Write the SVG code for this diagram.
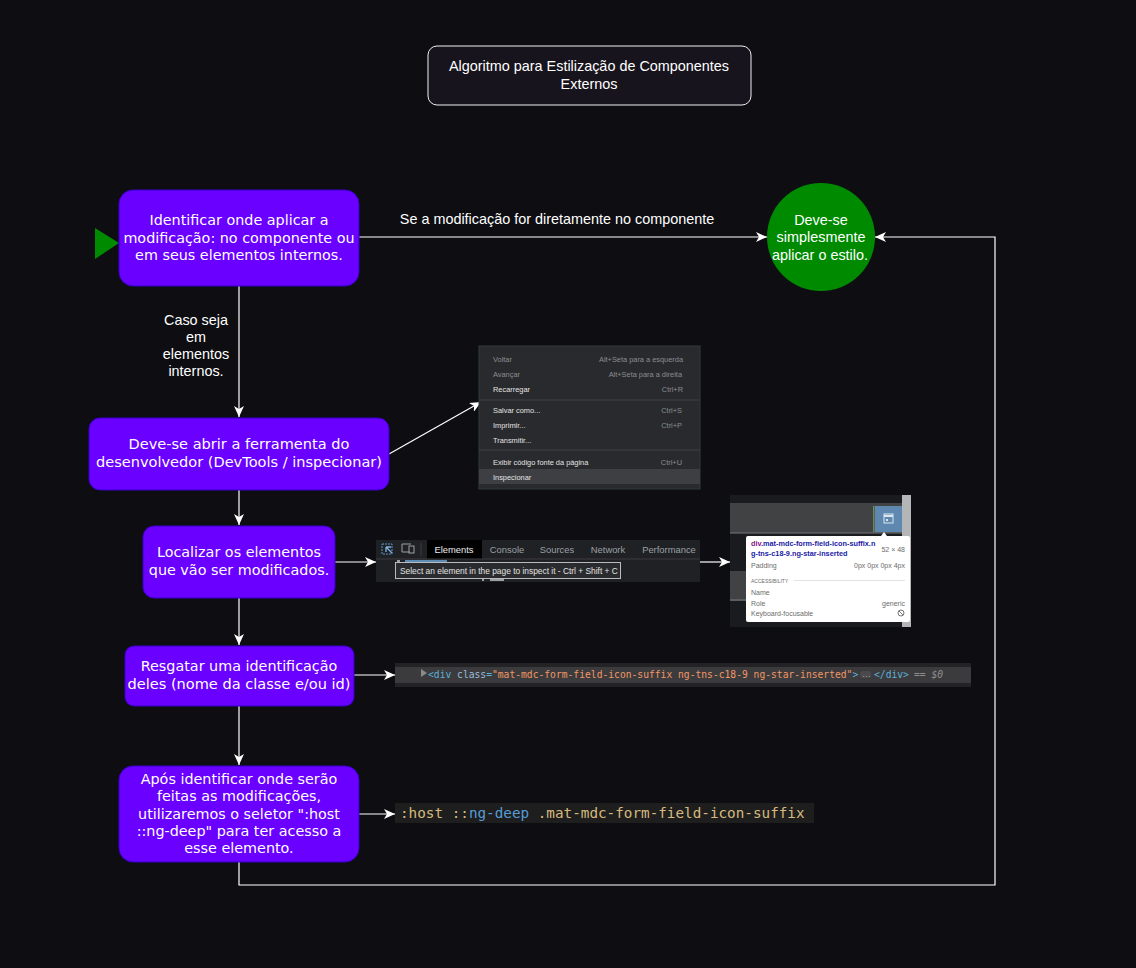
<svg xmlns="http://www.w3.org/2000/svg" width="1136" height="968" viewBox="0 0 1136 968">
<style>
.box{fill:#6a00ff;stroke:#3700cc;stroke-width:1}
.t{fill:#fff;font-family:"DejaVu Sans",Verdana,sans-serif;font-size:14.35px;text-anchor:middle}
.w{font-size:14.55px}
.h{fill:#fff;font-family:"Liberation Sans",Arial,sans-serif;font-size:14.4px;text-anchor:middle}
.c{fill:none;stroke:#fff;stroke-width:1.2}
.ui{font-family:"Liberation Sans",Arial,sans-serif;font-size:7.4px;fill:#e3e3e3}
.dim{fill:#8a8d91}
.tab{font-family:"Liberation Sans",Arial,sans-serif;font-size:9.4px;fill:#9aa0a6;text-anchor:middle}
.m{font-family:"DejaVu Sans Mono","Liberation Mono",monospace}
.tip{font-family:"Liberation Sans",Arial,sans-serif;font-size:7px;fill:#6b6b6b}
</style>
<defs>
<marker id="a" markerUnits="userSpaceOnUse" markerWidth="12" markerHeight="10" refX="11" refY="5" orient="auto"><path d="M0 0L11 5L0 10L3 5Z" fill="#fff"/></marker>
</defs>
<rect width="1136" height="968" fill="#0e0e12"/>

<g id="connectors">
<path class="c" marker-end="url(#a)" d="M359 237H767"/>
<path class="c" marker-end="url(#a)" d="M239 286V417"/>
<path class="c" marker-end="url(#a)" d="M389 454L481 402"/>
<path class="c" marker-end="url(#a)" d="M239 490V525"/>
<path class="c" marker-end="url(#a)" d="M335 562H376"/>
<path class="c" marker-end="url(#a)" d="M700 562H730"/>
<path class="c" marker-end="url(#a)" d="M239 598V645"/>
<path class="c" marker-end="url(#a)" d="M354 675H395"/>
<path class="c" marker-end="url(#a)" d="M239 706V765"/>
<path class="c" marker-end="url(#a)" d="M359 814H395"/>
<path class="c" marker-end="url(#a)" d="M239 862V885H995V237H875"/>
</g>

<g id="title"><rect x="428" y="46" width="323" height="59" rx="9" fill="#18141d" stroke="#f0f0f0"/>
<text class="h" x="589" y="71">Algoritmo para Estilização de Componentes</text><text class="h" x="589" y="89">Externos</text></g>

<g id="start"><polygon points="95,228 119,243 95,259" fill="#008a00"/></g>

<g id="n1"><rect class="box" x="119" y="190" width="240" height="96" rx="14"/>
<text class="t" x="239" y="225">Identificar onde aplicar a</text><text class="t" x="239" y="243">modificação: no componente ou</text><text class="t" x="239" y="260">em seus elementos internos.</text></g>

<g id="end"><circle cx="821" cy="237" r="54" fill="#008a00"/>
<text class="h" x="821" y="225">Deve-se</text><text class="h" x="821" y="242">simplesmente</text><text class="h" x="820" y="260">aplicar o estilo.</text></g>

<g id="label1"><text class="h" x="557" y="224">Se a modificação for diretamente no componente</text></g>
<g id="label2"><text class="h" x="196" y="325">Caso seja</text><text class="h" x="196" y="342">em</text><text class="h" x="196" y="359">elementos</text><text class="h" x="196" y="376">internos.</text></g>

<g id="n2"><rect class="box" x="89" y="418" width="300" height="72" rx="11"/>
<text class="t w" x="239" y="449">Deve-se abrir a ferramenta do</text><text class="t w" x="239" y="467">desenvolvedor (DevTools / inspecionar)</text></g>

<g id="menu"><rect x="479" y="346" width="221" height="143" fill="#292a2d" stroke="#2f3b3f"/>
<rect x="479" y="469" width="221" height="15" fill="#3e3f42"/>
<path d="M479 400H700M479 450H700" stroke="#3f4044"/>
<text class="ui dim" x="493" y="362">Voltar</text><text class="ui dim" x="683" y="362" text-anchor="end">Alt+Seta para a esquerda</text>
<text class="ui dim" x="493" y="377">Avançar</text><text class="ui dim" x="682" y="377" text-anchor="end">Alt+Seta para a direita</text>
<text class="ui" x="493" y="392">Recarregar</text><text class="ui dim" x="683" y="392" text-anchor="end">Ctrl+R</text>
<text class="ui" x="493" y="413">Salvar como...</text><text class="ui dim" x="682" y="413" text-anchor="end">Ctrl+S</text>
<text class="ui" x="493" y="428">Imprimir...</text><text class="ui dim" x="682" y="428" text-anchor="end">Ctrl+P</text>
<text class="ui" x="493" y="443">Transmitir...</text>
<text class="ui" x="493" y="465">Exibir código fonte da página</text><text class="ui dim" x="682" y="465" text-anchor="end">Ctrl+U</text>
<text class="ui" x="493" y="480">Inspecionar</text></g>

<g id="n3"><rect class="box" x="143" y="526" width="192" height="72" rx="11"/>
<text class="t" x="239" y="557">Localizar os elementos</text><text class="t" x="239" y="575">que vão ser modificados.</text></g>

<g id="devtools"><rect x="376" y="540" width="324" height="42" fill="#202124"/>
<rect x="427" y="540" width="55" height="19" fill="#000"/>
<path d="M376 559H700" stroke="#3c3d40"/>
<rect x="382" y="544" width="10" height="10" fill="none" stroke="#5e97d0" stroke-dasharray="2 1"/>
<path d="M386 547L392 553M386 547V552M386 547H391" stroke="#7fb2e5" stroke-width="1.3" fill="none"/>
<path d="M402 544H411M402 544V552H410" stroke="#9aa0a6" fill="none"/><rect x="409" y="546" width="5" height="7" fill="none" stroke="#9aa0a6"/>
<path d="M421 543V556" stroke="#3c3d40"/>
<rect x="397" y="560" width="3" height="2" fill="#9aa0a6"/><rect x="405" y="560" width="42" height="2" fill="#5d8db5"/>
<rect x="482" y="579" width="2" height="2" fill="#9aa0a6"/><rect x="490" y="579" width="14" height="2" fill="#9aa0a6"/>
<text class="tab" x="454" y="553" style="fill:#e8eaed">Elements</text>
<text class="tab" x="507" y="553">Console</text><text class="tab" x="557" y="553">Sources</text><text class="tab" x="608" y="553">Network</text><text class="tab" x="669" y="553">Performance</text>
<rect x="395.500" y="562.500" width="225" height="16" fill="#2a2b2e" stroke="#b9bbbe"/>
<text class="ui" x="400" y="574" style="font-size:8.4px">Select an element in the page to inspect it - Ctrl + Shift + C</text></g>

<g id="tooltip"><rect x="730" y="495" width="181" height="132" fill="#1a1b1e"/>
<rect x="730" y="503" width="172" height="30" fill="#414244"/><path d="M730 533H902" stroke="#77787a"/>
<rect x="730" y="571" width="172" height="30" fill="#414244"/><path d="M730 600H902" stroke="#77787a"/>
<rect x="902" y="495" width="9" height="132" fill="#b4b5b6"/>
<rect x="873" y="506" width="1.500" height="26" fill="#6a8a5c"/><rect x="875" y="506" width="27" height="26" fill="#5f88b0"/>
<rect x="884" y="514" width="9" height="9" fill="none" stroke="#dbe6f0"/><path d="M884 516H893" stroke="#dbe6f0" stroke-width="2"/><rect x="886" y="519" width="2" height="2" fill="#dbe6f0"/>
<rect x="746" y="536" width="164" height="86" rx="2" fill="#fff"/>
<polygon points="881,536 884,532 887,536" fill="#fff"/>
<text x="751" y="546" font-family="Liberation Sans,Arial,sans-serif" font-size="7.300" font-weight="bold" fill="#1a1aa6"><tspan fill="#881280">div</tspan>.mat-mdc-form-field-icon-suffix.n</text>
<text x="751" y="556" font-family="Liberation Sans,Arial,sans-serif" font-size="7.300" font-weight="bold" fill="#1a1aa6">g-tns-c18-9.ng-star-inserted</text>
<text class="tip" x="905" y="552" text-anchor="end">52 × 48</text>
<text class="tip" x="751" y="568">Padding</text><text class="tip" x="905" y="568" text-anchor="end">0px 0px 0px 4px</text>
<text class="tip" x="751" y="583" style="font-size:5px">ACCESSIBILITY</text><path d="M794 580.500H905" stroke="#e2e2e2"/>
<text class="tip" x="751" y="595">Name</text><text class="tip" x="751" y="606">Role</text><text class="tip" x="905" y="606" text-anchor="end">generic</text>
<text class="tip" x="751" y="616">Keyboard-focusable</text>
<circle cx="901" cy="613" r="3" fill="none" stroke="#777"/><path d="M899 611L903 615" stroke="#777"/></g>

<g id="n4"><rect class="box" x="125" y="646" width="229" height="60" rx="9"/>
<text class="t" x="239" y="671">Resgatar uma identificação</text><text class="t w" x="239" y="689">deles (nome da classe e/ou id)</text></g>

<g id="elementline"><rect x="395" y="663" width="576" height="24" fill="#232326"/><rect x="395" y="667" width="576" height="16" fill="#3b3b3d"/>
<polygon points="421,669 427,673 421,677" fill="#8a8a8a"/>
<text class="m" x="428" y="678" font-size="9.660" fill="#5db0d7">&lt;div <tspan fill="#9bbbdc">class</tspan>=<tspan fill="#f29766">"mat-mdc-form-field-icon-suffix ng-tns-c18-9 ng-star-inserted"</tspan>&gt;</text>
<rect x="860" y="671" width="11" height="7" rx="3" fill="#4a4a4d"/><text class="m" x="862" y="677" font-size="5" fill="#ddd">...</text>
<text class="m" x="874" y="678" font-size="9.660" fill="#5db0d7">&lt;/div&gt;</text>
<text class="m" x="914" y="678" font-size="9.660" fill="#8f8f8f">== <tspan font-style="italic">$0</tspan></text></g>

<g id="n5"><rect class="box" x="119" y="766" width="240" height="96" rx="14"/>
<text class="t" x="239" y="784">Após identificar onde serão</text><text class="t" x="239" y="801">feitas as modificações,</text><text class="t" x="239" y="819">utilizaremos o seletor ":host</text><text class="t" x="239" y="836">::ng-deep" para ter acesso a</text><text class="t" x="239" y="853">esse elemento.</text></g>

<g id="selector"><rect x="395" y="803" width="419" height="20" fill="#1e1e1e"/>
<text class="m" x="400" y="818" font-size="14.300" fill="#d7ba7d">:host ::<tspan fill="#569cd6">ng-deep</tspan> .mat-mdc-form-field-icon-suffix</text></g>
</svg>
